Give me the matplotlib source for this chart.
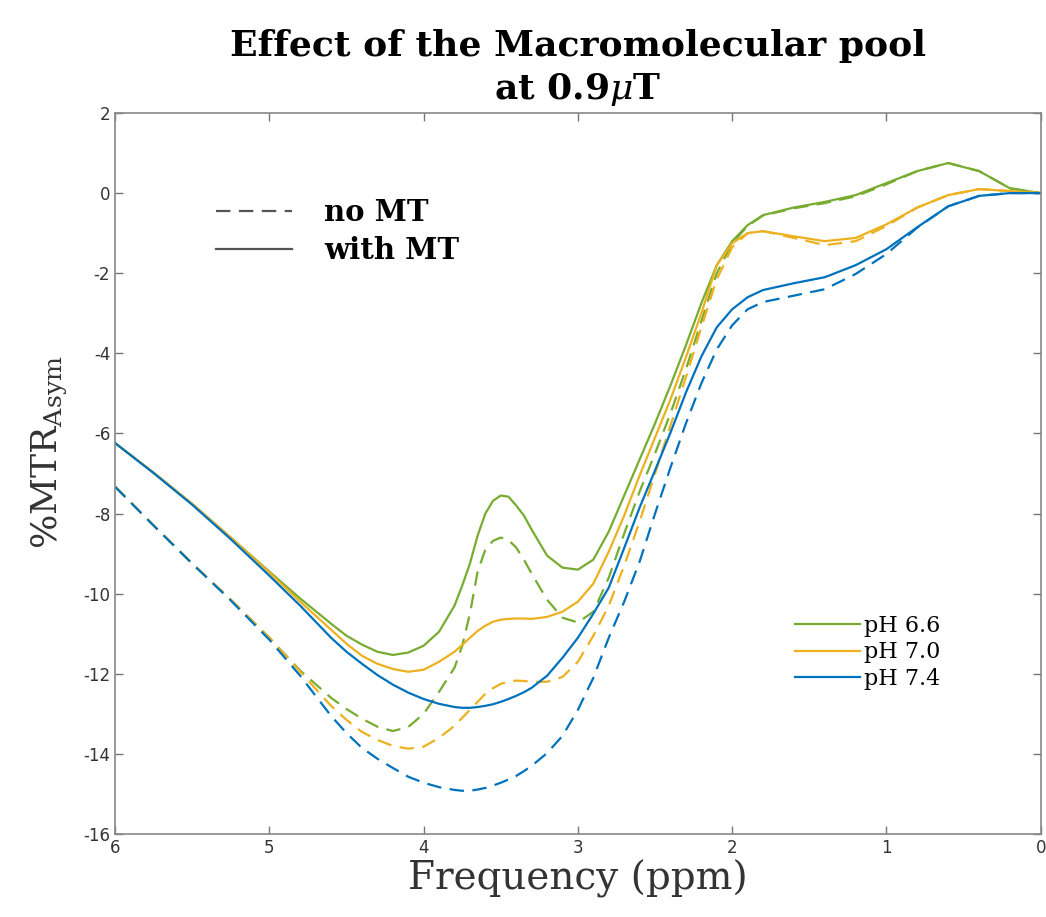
import matplotlib
matplotlib.use("Agg")
import matplotlib.pyplot as plt
from matplotlib.lines import Line2D

ppm = [6.0, 5.75, 5.5, 5.25, 5.0, 4.8, 4.6, 4.5, 4.4, 4.3, 4.2, 4.1, 4.0, 3.9, 3.8,
       3.75, 3.7, 3.65, 3.6, 3.55, 3.5, 3.45, 3.4, 3.35, 3.3, 3.2, 3.1, 3.0, 2.9,
       2.8, 2.7, 2.6, 2.5, 2.4, 2.3, 2.2, 2.1, 2.0, 1.9, 1.8, 1.6, 1.4, 1.2, 1.0,
       0.8, 0.6, 0.4, 0.2, 0.0]

# with MT (solid)
green_mt = [-6.24, -6.98, -7.76, -8.6, -9.45, -10.12, -10.75, -11.05, -11.27, -11.45, -11.53,
            -11.47, -11.3, -10.95, -10.3,
            -9.8, -9.25, -8.55, -8.0, -7.68, -7.55, -7.58, -7.8, -8.05, -8.4, -9.05, -9.35, -9.4, -9.15,
            -8.45, -7.55, -6.65, -5.75, -4.8, -3.8, -2.75, -1.8, -1.2, -0.8, -0.55, -0.36, -0.22, -0.05, 0.25,
            0.55, 0.75, 0.55, 0.12, 0.0]
orange_mt = [-6.24, -6.98, -7.76, -8.6, -9.47, -10.2, -10.9, -11.25, -11.55, -11.75, -11.88,
             -11.95, -11.9, -11.7, -11.45,
             -11.28, -11.1, -10.93, -10.8, -10.7, -10.65, -10.63, -10.62, -10.62, -10.63, -10.58, -10.45, -10.2, -9.75,
             -8.95, -8.05, -7.05, -6.1, -5.15, -4.1, -3.0, -1.8, -1.25, -1.0, -0.95, -1.08, -1.2, -1.12, -0.78,
             -0.36, -0.05, 0.1, 0.05, 0.0]
blue_mt = [-6.24, -6.99, -7.78, -8.64, -9.55, -10.3, -11.1, -11.45, -11.75, -12.03, -12.27,
           -12.47, -12.63, -12.75, -12.83,
           -12.85, -12.85, -12.83, -12.8, -12.76, -12.7, -12.63, -12.55, -12.46, -12.35, -12.05, -11.6, -11.1, -10.5,
           -9.85, -8.86, -7.85, -6.92, -5.98, -4.98, -4.08, -3.35, -2.9, -2.6, -2.42, -2.25, -2.1, -1.8, -1.4,
           -0.85, -0.33, -0.07, 0.0, 0.0]

# no MT (dashed)
green_no = [-7.33, -8.3, -9.25, -10.15, -11.1, -11.92, -12.6, -12.88, -13.12, -13.32, -13.43,
            -13.33, -13.0, -12.45, -11.85,
            -11.3, -10.5, -9.45, -8.9, -8.68, -8.6, -8.66, -8.85, -9.15, -9.5, -10.15, -10.6, -10.72, -10.45,
            -9.6, -8.5, -7.45, -6.5, -5.5, -4.4, -3.2, -2.0, -1.25, -0.82, -0.56, -0.38, -0.25, -0.08, 0.22,
            0.55, 0.75, 0.55, 0.12, 0.0]
orange_no = [-7.33, -8.3, -9.25, -10.15, -11.1, -11.95, -12.8, -13.15, -13.45, -13.65, -13.8,
             -13.87, -13.82, -13.6, -13.3,
             -13.1, -12.9, -12.7, -12.5, -12.36, -12.25, -12.2, -12.17, -12.18, -12.2, -12.2, -12.08, -11.7, -11.05,
             -10.3, -9.3, -8.2, -7.0, -5.8, -4.6, -3.35, -2.15, -1.35, -1.0, -0.95, -1.12, -1.3, -1.2, -0.82,
             -0.36, -0.05, 0.1, 0.05, 0.0]
blue_no = [-7.33, -8.3, -9.25, -10.17, -11.15, -12.05, -13.05, -13.48, -13.85, -14.12, -14.35,
           -14.57, -14.72, -14.83, -14.9,
           -14.92, -14.92, -14.89, -14.85, -14.79, -14.72, -14.64, -14.55, -14.43, -14.3, -13.98, -13.55, -12.9, -12.1,
           -11.1, -10.2, -9.2, -8.0, -6.85, -5.75, -4.75, -3.9, -3.3, -2.9, -2.72, -2.56, -2.4, -2.02, -1.52,
           -0.86, -0.33, -0.07, 0.0, 0.0]

ph_labels = ["pH 6.6", "pH 7.0", "pH 7.4"]
colors = ["#77AC30", "#EDB120", "#0072BD"]

serif = ["DejaVu Serif"]
plt.rcParams["mathtext.fontset"] = "dejavuserif"
plt.rcParams["axes.unicode_minus"] = False

fig = plt.figure(figsize=(10.46, 9.17), dpi=100)
ax = fig.add_axes([0.110, 0.0905, 0.885, 0.7863])

handles = []
for c, lab, no, mt in zip(colors, ph_labels,
                          [green_no, orange_no, blue_no],
                          [green_mt, orange_mt, blue_mt]):
    ax.plot(ppm, no, color=c, lw=1.6, dashes=(6.5, 3.8))
    h, = ax.plot(ppm, mt, color=c, lw=1.6, label=lab)
    handles.append(h)

ax.set_xlim(6, 0)
ax.set_ylim(-16, 2)
ax.set_xticks([6, 5, 4, 3, 2, 1, 0])
ax.set_yticks(range(-16, 3, 2))
ax.tick_params(direction="in", top=True, right=True, length=6, width=1,
               color="#777777", labelcolor="#333333", labelsize=12)
for s in ax.spines.values():
    s.set_color("#888888")
    s.set_linewidth(1.2)

ax.set_xlabel("Frequency (ppm)", fontsize=28, family=serif, color="#333333", labelpad=2)
ax.set_ylabel("%MTR$_{\\mathrm{Asym}}$", fontsize=26, family=serif, color="#333333")
ax.yaxis.set_label_coords(-0.05, 0.53)
ax.set_title("Effect of the Macromolecular pool\nat 0.9$\\mu$T", fontsize=26,
             family=serif, fontweight="bold", pad=10, linespacing=1.3)

leg1 = ax.legend(handles=handles, loc="center left", bbox_to_anchor=(0.713, 0.252),
                 frameon=False, prop={"family": serif, "size": 16},
                 handlelength=2.9, handletextpad=0.2, labelspacing=0.2)
ax.add_artist(leg1)

style_handles = [Line2D([], [], color="#555555", lw=1.6, dashes=(6.5, 3.8)),
                 Line2D([], [], color="#555555", lw=1.6)]
ax.legend(handles=style_handles, labels=["no MT", "with MT"], loc="center left",
          bbox_to_anchor=(0.081, 0.8356), frameon=False,
          prop={"family": serif, "size": 21, "weight": "bold"},
          handlelength=2.6, handletextpad=1.1, labelspacing=0.3)

fig.savefig("out.png", dpi=100)
